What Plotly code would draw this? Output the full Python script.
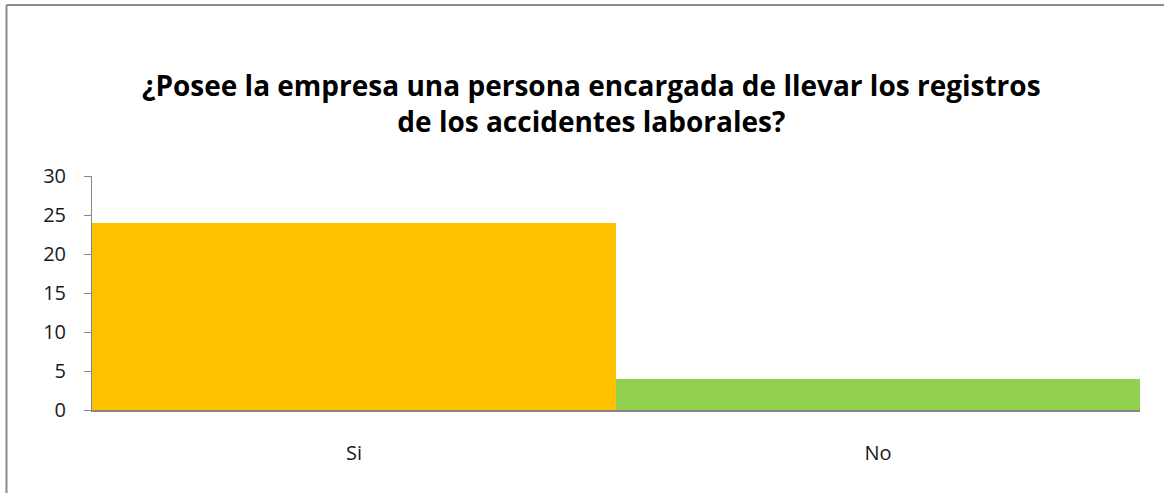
import plotly.graph_objects as go

categories = ["Si", "No"]
values = [24, 4]
colors = ["#FFC000", "#92D050"]
y_ticks = [0, 5, 10, 15, 20, 25, 30]
title_text = "¿Posee la empresa una persona encargada de llevar los registros<br>de los accidentes laborales?"

fig = go.Figure(go.Bar(x=categories, y=values, marker=dict(color=colors, line=dict(width=0))))

fig.update_layout(
    width=1164, height=493,
    margin=dict(l=92, r=24, t=176, b=83),
    paper_bgcolor="white", plot_bgcolor="white",
    bargap=0,
    showlegend=False,
    title=dict(text="<b>" + title_text + "</b>", x=0.508, xanchor="center",
               y=1 - 96 / 493, yanchor="middle",
               font=dict(family="Open Sans", size=28, color="#000000"),
               ),
    font=dict(family="Open Sans", size=20, color="#1a1a1a"),
)
fig.update_yaxes(range=[0, 30], tickvals=y_ticks, showgrid=False, zeroline=False,
                 showline=True, linecolor="#868686", linewidth=1,
                 ticks="outside", ticklen=7, tickcolor="#868686", ticklabelstandoff=14)
fig.update_xaxes(showgrid=False, showline=True, linecolor="#868686", linewidth=2,
                 ticks="", ticklabelstandoff=24)

# chart frame (left and top edges visible)
fig.add_shape(type="line", xref="paper", yref="paper",
              x0=(6.5 - 92) / 1048, x1=(1164 - 92) / 1048,
              y0=(410 - 5) / 234, y1=(410 - 5) / 234,
              line=dict(color="#8C8C8C", width=2))
fig.add_shape(type="line", xref="paper", yref="paper",
              x0=(6.5 - 92) / 1048, x1=(6.5 - 92) / 1048,
              y0=(410 - 5) / 234, y1=(410 - 493) / 234,
              line=dict(color="#8C8C8C", width=2))

fig.write_html("out.html", config={"displayModeBar": False},
               post_script="document.body.style.margin='0';")
